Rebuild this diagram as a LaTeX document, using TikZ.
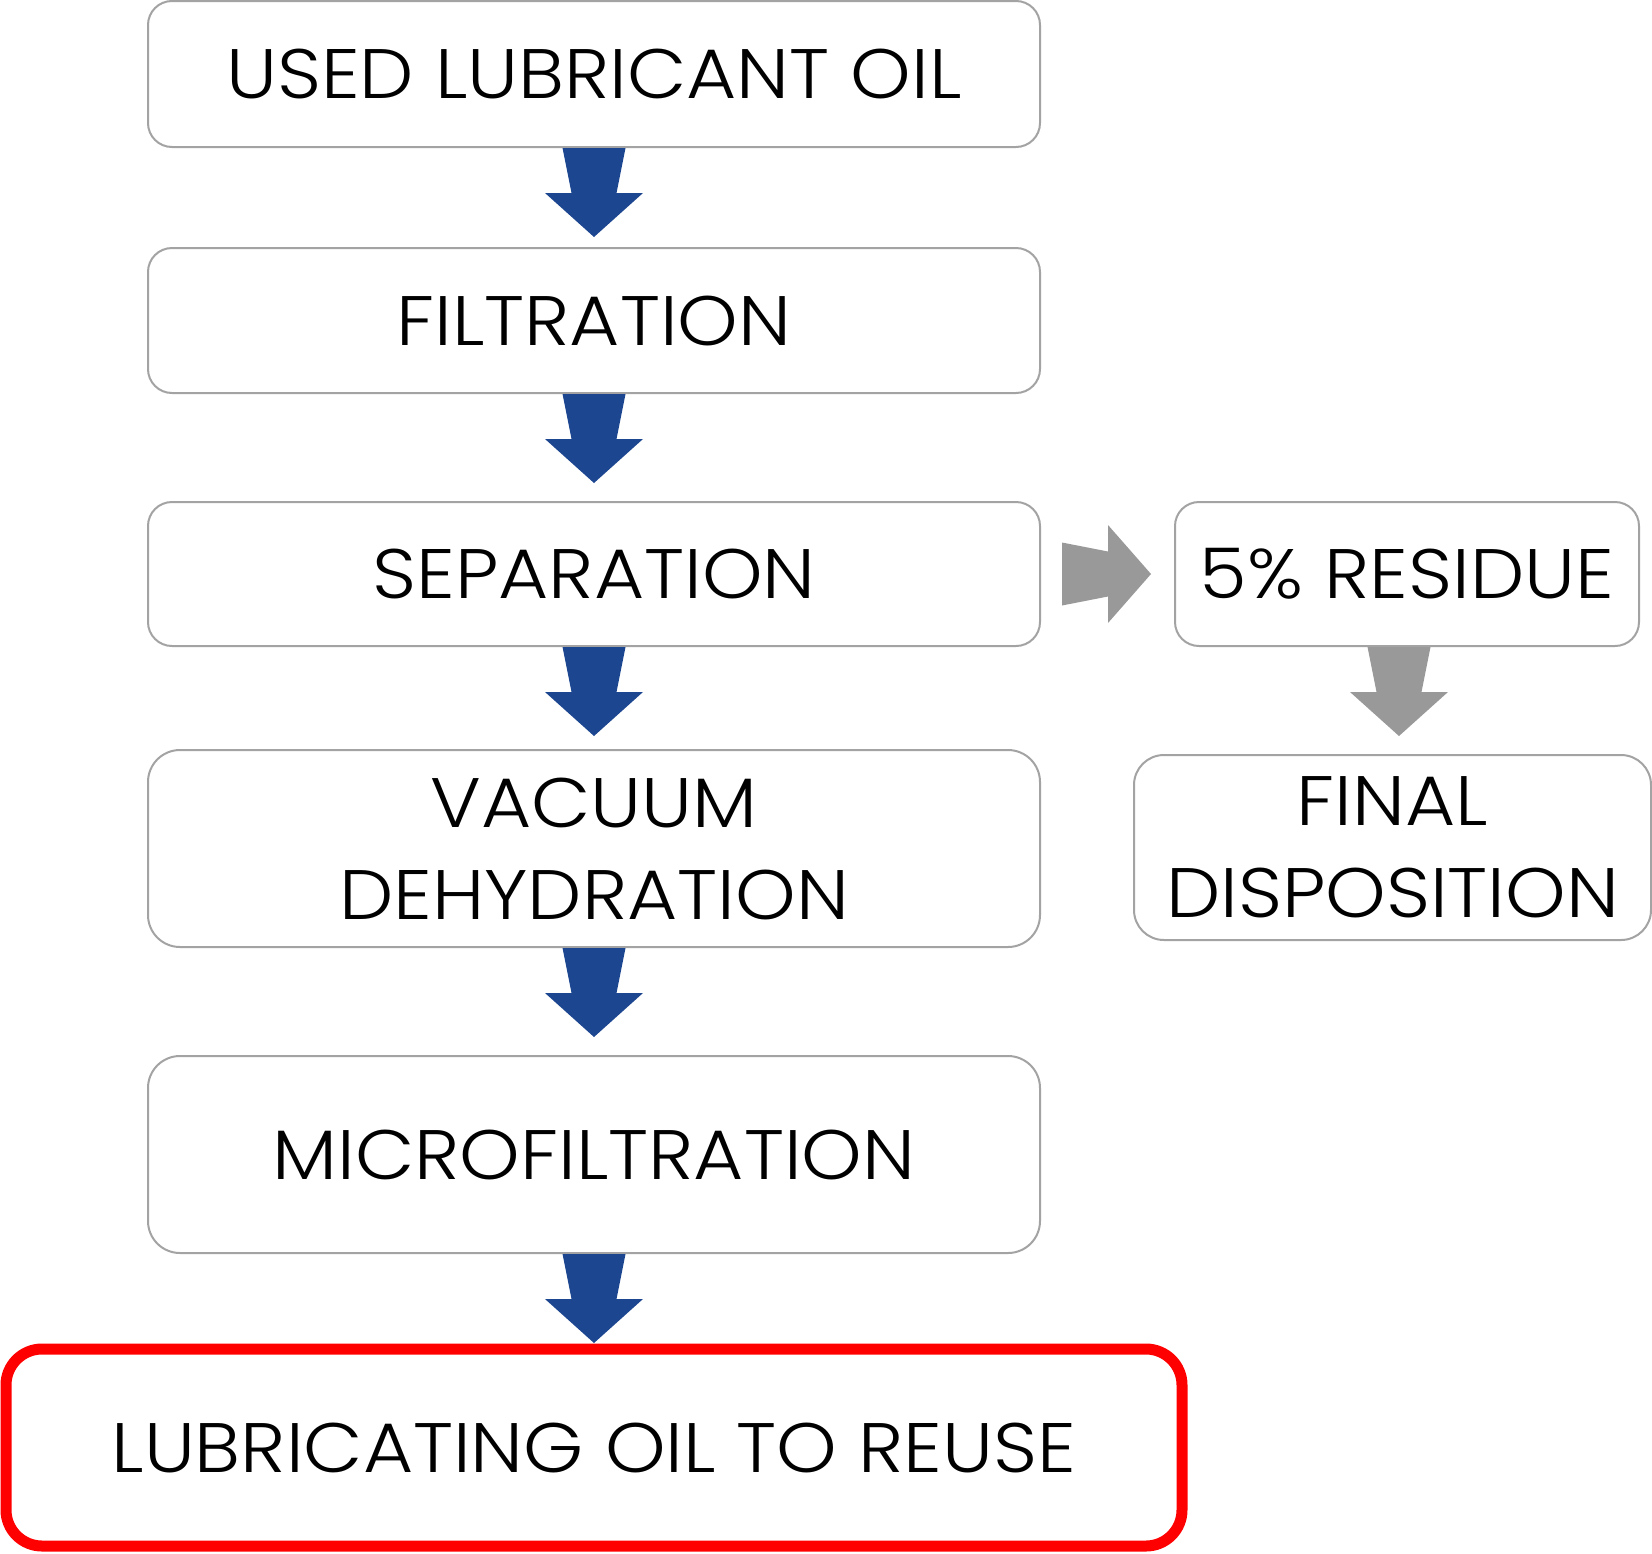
\documentclass[tikz,border=0pt]{standalone}
\usepackage{fontspec}
\IfFontExistsTF{Poppins Light}{\setmainfont{Poppins Light}[FakeStretch=1.1]}{\setmainfont{Poppins}[FakeStretch=1.1]}
\usetikzlibrary{calc}
\definecolor{boxgray}{HTML}{A3A3A3}
\definecolor{arrowblue}{HTML}{1C4690}
\definecolor{arrowgray}{HTML}{999999}
\definecolor{reusered}{HTML}{FF0000}
\tikzset{
  stepbox/.style={draw=boxgray, line width=2pt, rounded corners=24pt, minimum width=892pt,
    align=center, inner sep=0pt, font=\fontsize{70}{92}\selectfont, text=black},
  sidebox/.style={stepbox, minimum width=464pt},
  finalbox/.style={draw=reusered, line width=11pt, rounded corners=36pt, minimum width=1176pt,
    minimum height=197pt, align=center, inner sep=0pt, font=\fontsize{70}{92}\selectfont, text=black},
  pics/downarrow/.style={code={
    \fill[#1] (-31.5,0) -- (31.5,0) -- (22.5,45) -- (49,45) -- (0,89) -- (-49,45) -- (-22.5,45) -- cycle;
  }}
}
\begin{document}
\begin{tikzpicture}[x=1pt,y=-1pt]
\useasboundingbox (0,0) rectangle (1652,1553);
\node[stepbox, minimum height=146pt] (b1) at (594,74) {USED LUBRICANT OIL};
\node[stepbox, minimum height=145pt] (b2) at (594,320.5) {FILTRATION};
\node[stepbox, minimum height=144pt] (b3) at (594,574) {SEPARATION};
\node[stepbox, minimum height=197pt, rounded corners=32pt] (b4) at (594,848.5) {VACUUM\\DEHYDRATION};
\node[stepbox, minimum height=197pt, rounded corners=32pt] (b5) at (594,1154.5) {MICROFILTRATION};
\node[finalbox] (b6) at (594,1447.5) {LUBRICATING OIL TO REUSE};
\node[sidebox, minimum height=144pt] (r1) at (1407,574) {5\% RESIDUE};
\node[sidebox, minimum width=517pt, minimum height=185pt, rounded corners=30pt] (r2) at (1392.5,847.5) {FINAL\\DISPOSITION};
% blue arrows
\pic at (b1.south) {downarrow=arrowblue};
\pic at (b2.south) {downarrow=arrowblue};
\pic at (b3.south) {downarrow=arrowblue};
\pic at (b4.south) {downarrow=arrowblue};
\pic at (b5.south) {downarrow=arrowblue};
% gray arrows
\pic at ([xshift=-8pt]r1.south) {downarrow=arrowgray};
\coordinate (ra) at ([xshift=21pt]b3.east);
\fill[arrowgray] ($(ra)+(0,-31.5)$) -- ($(ra)+(46,-22.5)$) -- ($(ra)+(46,-49)$) -- ($(ra)+(89,0)$)
  -- ($(ra)+(46,49)$) -- ($(ra)+(46,22.5)$) -- ($(ra)+(0,31.5)$) -- cycle;
\end{tikzpicture}
\end{document}
